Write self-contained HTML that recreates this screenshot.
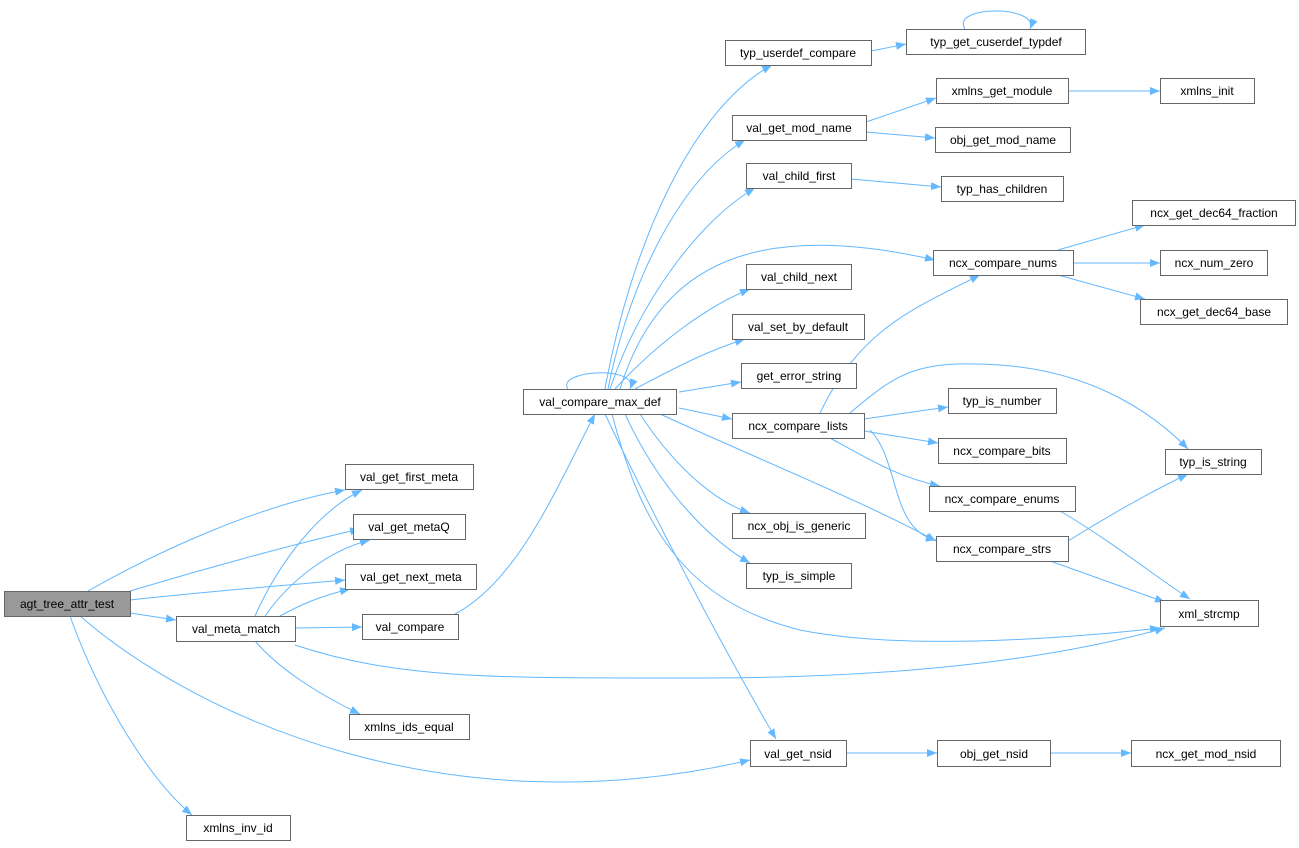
<!DOCTYPE html>
<html><head><meta charset="utf-8"><style>
html,body{margin:0;padding:0;background:#fff;}
svg{display:block;}
text{font-family:"Liberation Sans",sans-serif;font-size:12px;fill:#000;}
.n{fill:#fff;stroke:#666;stroke-width:1;}
.e{fill:none;stroke:#63b8ff;stroke-width:1;}
</style></head><body>
<svg width="1299" height="848" viewBox="0 0 1299 848" xmlns="http://www.w3.org/2000/svg">
<defs><marker id="a" viewBox="0 0 10 10" refX="10" refY="5" markerWidth="10" markerHeight="10" markerUnits="userSpaceOnUse" orient="auto"><path d="M0,1 L10,5 L0,9 z" fill="#63b8ff"/></marker></defs>
<g class="e" marker-end="url(#a)">
<path d="M88,591 C160,550 260,505 345,490"/>
<path d="M130,591 C200,570 290,545 360,529"/>
<path d="M130,600 C200,592 290,585 345,580"/>
<path d="M130,613 L176,620"/>
<path d="M80,616 C200,720 450,830 750,760"/>
<path d="M70,616 C100,700 150,780 192,815"/>
<path d="M255,616 C280,560 320,510 362,490"/>
<path d="M265,616 C290,580 330,550 370,540"/>
<path d="M280,616 C300,605 320,596 350,589"/>
<path d="M295,628 L362,627"/>
<path d="M255,641 C280,670 320,695 360,714"/>
<path d="M295,645 C400,680 500,678 700,678 C900,678 1050,660 1165,628"/>
<path d="M455,614 C520,580 560,480 595,414"/>
<path d="M568,389 C555,370 640,365 630,389"/>
<path d="M605,389 C630,250 690,110 772,65"/>
<path d="M608,389 C630,280 680,180 745,140"/>
<path d="M610,389 C640,300 700,220 755,188"/>
<path d="M620,389 C660,260 760,220 935,260"/>
<path d="M615,389 C660,340 710,305 750,289"/>
<path d="M635,389 C680,365 710,350 745,339"/>
<path d="M679,392 L741,382"/>
<path d="M679,408 L732,419"/>
<path d="M640,414 C670,460 710,500 750,513"/>
<path d="M625,414 C660,490 710,540 750,563"/>
<path d="M660,414 C760,460 860,500 936,541"/>
<path d="M612,414 C640,520 680,600 800,630 C900,650 1050,640 1160,628"/>
<path d="M605,414 C660,530 730,660 776,739"/>
<path d="M871,51 L906,44"/>
<path d="M965,29 C950,5 1040,5 1030,29"/>
<path d="M866,122 L936,98"/>
<path d="M866,132 L935,138"/>
<path d="M1068,91 L1160,91"/>
<path d="M851,179 L941,187"/>
<path d="M1058,250 L1145,225"/>
<path d="M1073,263 L1160,263"/>
<path d="M1058,275 L1145,299"/>
<path d="M820,413 C860,330 910,310 980,275"/>
<path d="M850,413 C900,370 920,360 1000,365 C1100,372 1160,420 1188,449"/>
<path d="M864,419 L948,407"/>
<path d="M864,431 L938,443"/>
<path d="M830,438 C870,460 900,478 940,486"/>
<path d="M870,430 C900,460 890,530 936,540"/>
<path d="M1060,511 C1110,540 1160,580 1190,599"/>
<path d="M1068,541 C1110,515 1150,492 1188,474"/>
<path d="M1050,561 C1090,575 1130,590 1165,602"/>
<path d="M846,753 L937,753"/>
<path d="M1050,753 L1131,753"/>
</g>
<g>
<rect x="4.5" y="591.5" width="126" height="25" fill="#999" stroke="#666"/><text x="67" y="608" text-anchor="middle">agt_tree_attr_test</text>
<rect class="n" x="345.5" y="464.5" width="128" height="25"/><text x="409" y="481" text-anchor="middle">val_get_first_meta</text>
<rect class="n" x="353.5" y="514.5" width="112" height="25"/><text x="409" y="531" text-anchor="middle">val_get_metaQ</text>
<rect class="n" x="345.5" y="564.5" width="131" height="25"/><text x="411" y="581" text-anchor="middle">val_get_next_meta</text>
<rect class="n" x="176.5" y="616.5" width="119" height="25"/><text x="236" y="633" text-anchor="middle">val_meta_match</text>
<rect class="n" x="362.5" y="614.5" width="96" height="25"/><text x="410" y="631" text-anchor="middle">val_compare</text>
<rect class="n" x="349.5" y="714.5" width="120" height="25"/><text x="409" y="731" text-anchor="middle">xmlns_ids_equal</text>
<rect class="n" x="186.5" y="815.5" width="104" height="25"/><text x="238" y="832" text-anchor="middle">xmlns_inv_id</text>
<rect class="n" x="523.5" y="389.5" width="153" height="25"/><text x="600" y="406" text-anchor="middle">val_compare_max_def</text>
<rect class="n" x="725.5" y="40.5" width="146" height="25"/><text x="798" y="57" text-anchor="middle">typ_userdef_compare</text>
<rect class="n" x="906.5" y="29.5" width="179" height="25"/><text x="996" y="46" text-anchor="middle">typ_get_cuserdef_typdef</text>
<rect class="n" x="936.5" y="78.5" width="132" height="25"/><text x="1002" y="95" text-anchor="middle">xmlns_get_module</text>
<rect class="n" x="1160.5" y="78.5" width="94" height="25"/><text x="1207" y="95" text-anchor="middle">xmlns_init</text>
<rect class="n" x="732.5" y="115.5" width="134" height="25"/><text x="799" y="132" text-anchor="middle">val_get_mod_name</text>
<rect class="n" x="935.5" y="127.5" width="135" height="25"/><text x="1003" y="144" text-anchor="middle">obj_get_mod_name</text>
<rect class="n" x="746.5" y="163.5" width="105" height="25"/><text x="799" y="180" text-anchor="middle">val_child_first</text>
<rect class="n" x="941.5" y="176.5" width="122" height="25"/><text x="1002" y="193" text-anchor="middle">typ_has_children</text>
<rect class="n" x="1132.5" y="200.5" width="163" height="25"/><text x="1214" y="217" text-anchor="middle">ncx_get_dec64_fraction</text>
<rect class="n" x="933.5" y="250.5" width="140" height="25"/><text x="1003" y="267" text-anchor="middle">ncx_compare_nums</text>
<rect class="n" x="1160.5" y="250.5" width="107" height="25"/><text x="1214" y="267" text-anchor="middle">ncx_num_zero</text>
<rect class="n" x="1140.5" y="299.5" width="147" height="25"/><text x="1214" y="316" text-anchor="middle">ncx_get_dec64_base</text>
<rect class="n" x="746.5" y="264.5" width="105" height="25"/><text x="799" y="281" text-anchor="middle">val_child_next</text>
<rect class="n" x="732.5" y="314.5" width="132" height="25"/><text x="798" y="331" text-anchor="middle">val_set_by_default</text>
<rect class="n" x="741.5" y="363.5" width="115" height="25"/><text x="799" y="380" text-anchor="middle">get_error_string</text>
<rect class="n" x="732.5" y="413.5" width="132" height="25"/><text x="798" y="430" text-anchor="middle">ncx_compare_lists</text>
<rect class="n" x="948.5" y="388.5" width="108" height="25"/><text x="1002" y="405" text-anchor="middle">typ_is_number</text>
<rect class="n" x="938.5" y="438.5" width="128" height="25"/><text x="1002" y="455" text-anchor="middle">ncx_compare_bits</text>
<rect class="n" x="1165.5" y="449.5" width="96" height="25"/><text x="1213" y="466" text-anchor="middle">typ_is_string</text>
<rect class="n" x="929.5" y="486.5" width="146" height="25"/><text x="1002" y="503" text-anchor="middle">ncx_compare_enums</text>
<rect class="n" x="936.5" y="536.5" width="132" height="25"/><text x="1002" y="553" text-anchor="middle">ncx_compare_strs</text>
<rect class="n" x="732.5" y="513.5" width="133" height="25"/><text x="799" y="530" text-anchor="middle">ncx_obj_is_generic</text>
<rect class="n" x="746.5" y="563.5" width="105" height="25"/><text x="799" y="580" text-anchor="middle">typ_is_simple</text>
<rect class="n" x="1160.5" y="600.5" width="98" height="26"/><text x="1209" y="618" text-anchor="middle">xml_strcmp</text>
<rect class="n" x="750.5" y="740.5" width="96" height="26"/><text x="798" y="758" text-anchor="middle">val_get_nsid</text>
<rect class="n" x="937.5" y="740.5" width="113" height="26"/><text x="994" y="758" text-anchor="middle">obj_get_nsid</text>
<rect class="n" x="1131.5" y="740.5" width="149" height="26"/><text x="1206" y="758" text-anchor="middle">ncx_get_mod_nsid</text>
</g>
</svg>
</body></html>
